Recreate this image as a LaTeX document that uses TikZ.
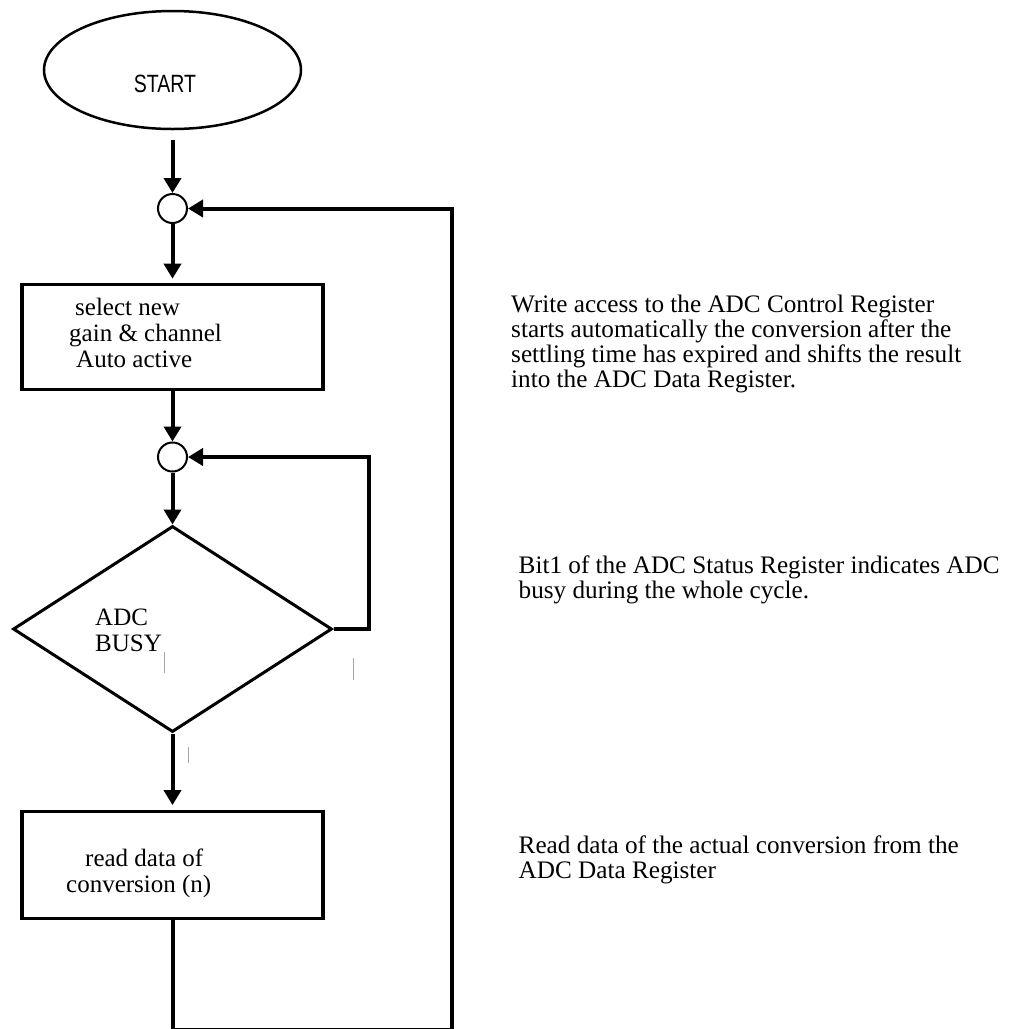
\documentclass[tikz,border=0pt]{standalone}
\usepackage{fontspec}
\setmainfont{Liberation Serif}
\newfontfamily\startfont[FakeStretch=0.78]{Liberation Sans}
\usetikzlibrary{shapes.geometric,arrows.meta}

% left-aligned block of lines whose baseline is that of its first line
\newcommand\stacklines[1]{\begin{tabular}[t]{@{}l@{}}#1\end{tabular}}

\begin{document}
\begin{tikzpicture}[x=1pt,y=-1pt,
  flow/.style={line width=4pt},
  arr/.style={flow,-{Triangle[length=15pt,width=17pt]}},
  procbox/.style={draw,rectangle,line width=3.3pt,minimum width=301pt,inner sep=0pt},
  joint/.style={draw,circle,line width=2pt,minimum size=29pt,inner sep=0pt},
  boxtext/.style={inner sep=0pt,anchor=base west,font=\fontsize{25}{26}\selectfont},
  note/.style={inner sep=0pt,anchor=base west,font=\fontsize{25.2}{25.3}\selectfont},
  tick/.style={draw=black!35,line width=1pt}
]
\useasboundingbox (0,0) rectangle (1016,1029);

% terminal
\node[draw,ellipse,line width=2.5pt,minimum width=257pt,minimum height=118pt,inner sep=0pt] (start) at (172.5,70) {};
\node[inner sep=0pt,anchor=base,font=\startfont\fontsize{25}{30}\selectfont] (startlbl) at (165,92) {START};

% flow chart elements
\node[joint] (j1) at (172.5,208.5) {};
\node[procbox,minimum height=105pt] (sel) at (172.5,336.8) {};
\node[boxtext] (seltxt) at (69,315) {\stacklines{\hspace*{6pt}select new\\gain \& channel\\\hspace*{7pt}Auto active}};
\node[joint] (j2) at (172.5,457) {};
\node[draw,diamond,line width=3pt,minimum width=319pt,minimum height=206pt,inner sep=0pt] (busy) at (172.5,629) {};
\node[boxtext] (busytxt) at (95,625) {\stacklines{ADC\\BUSY}};
\node[procbox,minimum height=106.5pt] (rd) at (172.5,865) {};
\node[boxtext] (rdtxt) at (66,866.7) {\stacklines{\hspace*{19pt}read data of\\conversion (n)}};

% loop return columns
\coordinate (loopin) at (369,0);
\coordinate (loopout) at (452,1030.2);

% connectors
\draw[arr,shorten <=10pt] (start) -- (j1);
\draw[arr,shorten >=4pt] (j1) -- (sel);
\draw[arr] (sel) -- (j2);
\draw[arr] (j2) -- (busy);
\draw[arr,shorten >=5pt] (busy) -- (rd);
\draw[arr] (busy.east) -- (busy.east -| loopin) |- (j2);
\draw[arr] (rd) |- (loopout) |- (j1);

% faint marks around the decision
\draw[tick] (164,652) -- (164,673);
\draw[tick] (353,658) -- (353,680);
\draw[tick] (188,747) -- (188,763);

% explanatory notes
\node[note] (n1) at (511,312) {\stacklines{Write access to the ADC Control Register\\starts automatically the conversion after the\\settling time has expired and shifts the result\\into the ADC Data Register.}};
\node[note] (n2) at (518.5,573) {\stacklines{Bit1 of the ADC Status Register indicates ADC\\busy during the whole cycle.}};
\node[note] (n3) at (518.5,853) {\stacklines{Read data of the actual conversion from the\\ADC Data Register}};
\end{tikzpicture}
\end{document}
